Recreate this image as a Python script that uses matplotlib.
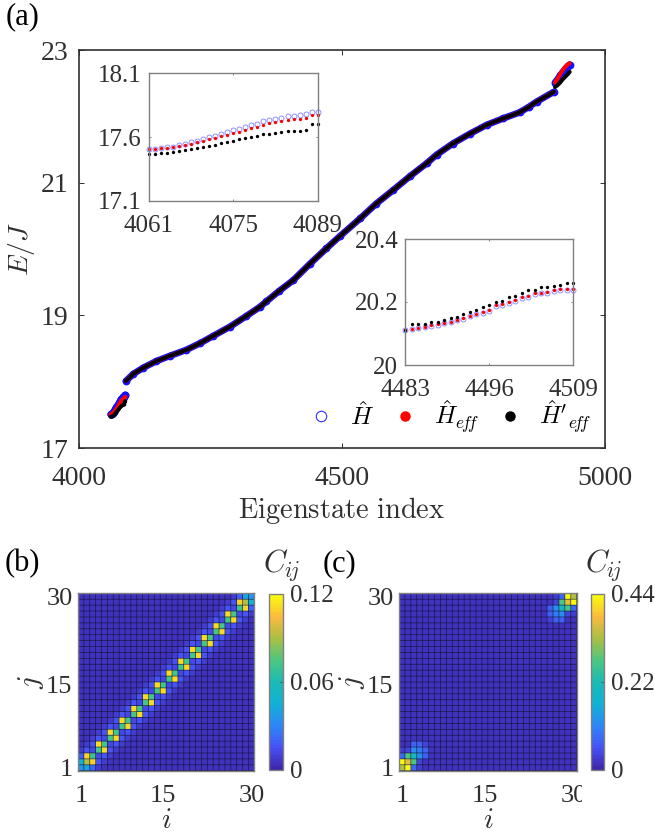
import numpy as np
import matplotlib.pyplot as plt
from matplotlib.colors import LinearSegmentedColormap
from matplotlib.transforms import Bbox

plt.rcParams['font.family'] = ['Liberation Serif', 'DejaVu Serif']
plt.rcParams['mathtext.fontset'] = 'cm'

W, H = 655, 834
TXT = '#303030'

# low edge states (also inset 1)
low_idx = np.arange(4061, 4090)
low_h = [17.506, 17.506, 17.511, 17.519, 17.524, 17.535, 17.545, 17.558, 17.571, 17.584,
         17.597, 17.611, 17.624, 17.637, 17.652, 17.665, 17.679, 17.692, 17.705, 17.723,
         17.734, 17.744, 17.752, 17.762, 17.768, 17.775, 17.783, 17.799, 17.799]
low_eff = [17.506, 17.506, 17.511, 17.516, 17.521, 17.529, 17.537, 17.548, 17.558, 17.571,
           17.582, 17.592, 17.605, 17.616, 17.629, 17.642, 17.655, 17.668, 17.681, 17.694,
           17.707, 17.718, 17.726, 17.734, 17.739, 17.744, 17.749, 17.770, 17.770]
low_prime = [17.469, 17.469, 17.472, 17.477, 17.482, 17.487, 17.495, 17.503, 17.511, 17.521,
             17.529, 17.540, 17.553, 17.563, 17.571, 17.582, 17.595, 17.603, 17.611, 17.621,
             17.626, 17.634, 17.639, 17.645, 17.647, 17.650, 17.652, 17.705, 17.705]

# bulk states, the three curves lie on top of each other here
bulk_idx = [4090, 4104, 4123, 4148, 4174, 4205, 4231, 4256, 4288, 4319, 4345, 4357, 4380, 4408, 4440, 4471,
            4496, 4535, 4565, 4598, 4630, 4661, 4680, 4711, 4744, 4775, 4807, 4838, 4855, 4870, 4903]
bulk_e = [18.01, 18.116, 18.21, 18.31, 18.39, 18.48, 18.58, 18.69, 18.83, 18.99, 19.13, 19.21, 19.36, 19.53,
          19.78, 20.01, 20.19, 20.46, 20.68, 20.89, 21.10, 21.29, 21.42, 21.59, 21.74, 21.87, 21.97, 22.06,
          22.14, 22.22, 22.37]

# high edge states
high_idx = [4905, 4910, 4915, 4920, 4925, 4930, 4933]
high_h = [22.51, 22.56, 22.62, 22.67, 22.72, 22.76, 22.78]
high_eff = [22.51, 22.57, 22.64, 22.70, 22.75, 22.79, 22.80]
high_prime = [22.44, 22.47, 22.51, 22.56, 22.60, 22.64, 22.67]

# inset 2
mid_idx = np.arange(4483, 4510)
mid_h = [20.111, 20.114, 20.117, 20.120, 20.124, 20.128, 20.132, 20.136, 20.142, 20.146, 20.155, 20.161, 20.166,
         20.172, 20.187, 20.192, 20.198, 20.204, 20.212, 20.216, 20.224, 20.227, 20.230, 20.234, 20.237, 20.237, 20.238]
mid_eff = [20.111, 20.115, 20.118, 20.122, 20.126, 20.130, 20.134, 20.138, 20.144, 20.148, 20.157, 20.163, 20.168,
           20.174, 20.190, 20.195, 20.201, 20.207, 20.215, 20.219, 20.227, 20.230, 20.233, 20.238, 20.241, 20.241, 20.242]
mid_prime = [20.111, 20.131, 20.131, 20.131, 20.1365, 20.1365, 20.142, 20.149, 20.151, 20.162, 20.168, 20.174, 20.185,
             20.189, 20.201, 20.204, 20.216, 20.220, 20.229, 20.237, 20.239, 20.248, 20.248, 20.252, 20.254, 20.260, 20.261]

# correlation matrices, read cell by cell
corner_b = [[0.035, 0.040, 0.020],
            [0.045, 0.090, 0.110],
            [0.020, 0.110, 0.070]]
block_start = [3, 5, 7, 9, 11, 13, 15, 17, 19, 21, 23, 25]
block_peak = 0.112
block_side = 0.072
band_b = [0, 0.012, 0.015, 0.008]  # value by distance from the diagonal
back_b = 0.005

corner_c = [[0.33, 0.44, 0.08, 0.03, 0.02],
            [0.44, 0.37, 0.27, 0.04, 0.02],
            [0.08, 0.27, 0.21, 0.12, 0.07],
            [0.03, 0.04, 0.12, 0.10, 0.07],
            [0.02, 0.02, 0.07, 0.07, 0.04]]
back_c = 0.02

parula = [(0.2422, 0.1504, 0.6603), (0.2810, 0.3228, 0.9579), (0.1786, 0.5289, 0.9682),
          (0.0689, 0.6948, 0.8394), (0.1000, 0.7300, 0.7100), (0.3000, 0.7800, 0.5000),
          (0.6600, 0.7500, 0.2700), (0.9800, 0.7300, 0.2400), (0.9763, 0.9831, 0.0538)]
cmap = LinearSegmentedColormap.from_list('parula', parula, N=64)


def px_axes(left, top, right, bottom):
    return fig.add_axes([left / W, 1 - bottom / H, (right - left) / W, (bottom - top) / H])


def style_axes(ax, color, size, pad_x, pad_y, lw=1.0, tick=3):
    for s in ax.spines.values():
        s.set_color(color)
        s.set_linewidth(lw)
    ax.tick_params(axis='x', direction='in', length=tick, width=0.7, color=color, top=True,
                   labelsize=size, labelcolor=TXT, pad=pad_x)
    ax.tick_params(axis='y', direction='in', length=tick, width=0.7, color=color, right=True,
                   labelsize=size, labelcolor=TXT, pad=pad_y)


def draw_heat(ax, cax, C, vmax, ticks, ticklabels):
    cells = np.arange(0.5, 31)
    mesh = ax.pcolormesh(cells, cells, C, cmap=cmap, vmin=0, vmax=vmax, linewidth=0)
    # thin unsnapped grid, so the cells keep their colour
    grid_v = ax.vlines(cells, 0.5, 30.5, color='#101030', lw=0.5, alpha=0.8)
    grid_h = ax.hlines(cells, 0.5, 30.5, color='#101030', lw=0.5, alpha=0.8)
    grid_v.set_snap(False)
    grid_h.set_snap(False)
    ax.set_xticks([1, 15, 30])
    ax.set_yticks([1, 15, 30])
    ax.set_xlim(0.5, 30.5)
    ax.set_ylim(0.5, 30.5)
    style_axes(ax, '#808080', 19, 10, 4, tick=0)
    ax.set_aspect('auto')
    cb = fig.colorbar(mesh, cax=cax)
    cb.set_ticks(ticks)
    cb.set_ticklabels(ticklabels)
    cb.ax.tick_params(direction='in', length=2, width=0.6, color='#505050', labelsize=18, labelcolor=TXT, pad=5)
    cb.outline.set_edgecolor('#808080')
    cb.outline.set_linewidth(1.0)


fig = plt.figure(figsize=(W / 100, H / 100), dpi=100)

# panel (a)
ax = px_axes(78.5, 50, 605, 448)
for xs, h, e, p in [(low_idx, low_h, low_eff, low_prime),
                    (bulk_idx, bulk_e, bulk_e, bulk_e),
                    (high_idx, high_h, high_eff, high_prime)]:
    ax.plot(xs, h, '-o', color='#1010ff', lw=4.8, ms=5.6, mew=0, solid_capstyle='round')
    ax.plot(xs, e, color='#ff0000', lw=3.0, solid_capstyle='round')
    ax.plot(xs, p, color='k', lw=2.8, solid_capstyle='round')
ax.set_xlim(4000, 5000)
ax.set_ylim(17, 23)
ax.set_xticks([4000, 4500, 5000])
ax.set_yticks([17, 19, 21, 23])
style_axes(ax, '#303030', 20, 13, 7, lw=1.2, tick=3.6)
ax.set_xlabel(r'$\mathrm{Eigenstate\ index}$', fontsize=20.5, color=TXT, labelpad=3)
ax.set_ylabel(r'$E/J$', fontsize=20, color=TXT, labelpad=3)

h1 = ax.plot([], [], 'o', mfc='none', mec='#3030ff', ms=7.5, mew=0.8, label=r'$\hat{H}$')[0]
h2 = ax.plot([], [], 'o', color='#ff0000', ms=6.5, label=r'$\hat{H}_{e\!f\!f}$')[0]
h3 = ax.plot([], [], 'o', color='k', ms=6.5, label=r"$\hat{H}'_{e\!f\!f}$")[0]
ax.legend(handles=[h1, h2, h3], ncol=3, frameon=False, fontsize=18, loc='lower right',
          bbox_to_anchor=(1.008, -0.012), columnspacing=0.75, handlelength=1.0, handletextpad=0.65,
          borderpad=0.2, labelcolor='k')

# inset 1
ins = px_axes(148.7, 73.3, 317.7, 200.7)
ins.plot(low_idx, low_h, 'o', mfc='none', mec='#8080ff', ms=3.6, mew=0.6, clip_on=False)
ins.plot(low_idx, low_eff, 'o', color='#ff0000', ms=2.4, mew=0, clip_on=False)
ins.plot(low_idx, low_prime, 'o', color='k', ms=2.4, mew=0, clip_on=False)
ins.set_xlim(4061, 4089)
ins.set_ylim(17.1, 18.1)
ins.set_xticks([4061, 4075, 4089])
ins.set_yticks([17.1, 17.6, 18.1])
ins.set_yticklabels(['17.1', '17.6', '18.1'])
style_axes(ins, '#808080', 18, 10, 5, tick=1.5)

# inset 2
ins2 = px_axes(405.3, 239, 573.3, 365)
ins2.plot(mid_idx, mid_h, 'o', mfc='none', mec='#8080ff', ms=3.6, mew=0.6, clip_on=False)
ins2.plot(mid_idx, mid_eff, 'o', color='#ff0000', ms=2.4, mew=0, clip_on=False)
ins2.plot(mid_idx, mid_prime, 'o', color='k', ms=2.4, mew=0, clip_on=False)
ins2.set_xlim(4483, 4509)
ins2.set_ylim(20, 20.4)
ins2.set_xticks([4483, 4496, 4509])
ins2.set_yticks([20, 20.2, 20.4])
ins2.set_yticklabels(['20', '20.2', '20.4'])
style_axes(ins2, '#808080', 18, 10, 5, tick=1.5)

# panel (b)
Cb = np.full((30, 30), back_b)
for d, v in enumerate(band_b):
    if d > 0:
        for k in range(30 - d):
            Cb[k, k + d] = v
            Cb[k + d, k] = v
for s in block_start:
    Cb[s, s] = block_side
    Cb[s + 1, s + 1] = block_side
    Cb[s, s + 1] = block_peak
    Cb[s + 1, s] = block_peak
Cb[:3, :3] = corner_b
Cb[-3:, -3:] = np.array(corner_b)[::-1, ::-1]

axb = px_axes(78, 593.3, 254.3, 770.7)
caxb = px_axes(269.3, 594, 282.7, 770)
draw_heat(axb, caxb, Cb, 0.12, [0, 0.06, 0.12], ['0', '0.06', '0.12'])
axb.set_xlabel(r'$i$', fontsize=21, color=TXT, labelpad=1)
axb.set_ylabel(r'$j$', fontsize=21, color=TXT, labelpad=0)

# panel (c)
Cc = np.full((30, 30), back_c)
Cc[:5, :5] = corner_c
Cc[-5:, -5:] = np.array(corner_c)[::-1, ::-1]

axc = px_axes(399, 593.3, 576.7, 770.7)
caxc = px_axes(590.7, 594, 604, 770)
draw_heat(axc, caxc, Cc, 0.44, [0, 0.22, 0.44], ['0', '0.22', '0.44'])
axc.set_xlabel(r'$i$', fontsize=21, color=TXT, labelpad=1)
axc.set_ylabel(r'$j$', fontsize=21, color=TXT, labelpad=0)

# the last label of panel (c) is cut off in the original
last = axc.get_xticklabels()[-1]
last.set_clip_box(Bbox([[0, 0], [582, H]]))
last.set_clip_on(True)

fig.text(6 / W, 1 - 17 / H, '(a)', fontsize=22, color='k', va='center')
fig.text(5 / W, 1 - 564 / H, '(b)', fontsize=22, color='k', va='center')
fig.text(323 / W, 1 - 564 / H, '(c)', fontsize=22, color='k', va='center')
fig.text(263 / W, 1 - 565 / H, r'$C_{i\!j}$', fontsize=22, color=TXT, va='center')
fig.text(585 / W, 1 - 565 / H, r'$C_{i\!j}$', fontsize=22, color=TXT, va='center')

fig.savefig('out.png', dpi=100)
